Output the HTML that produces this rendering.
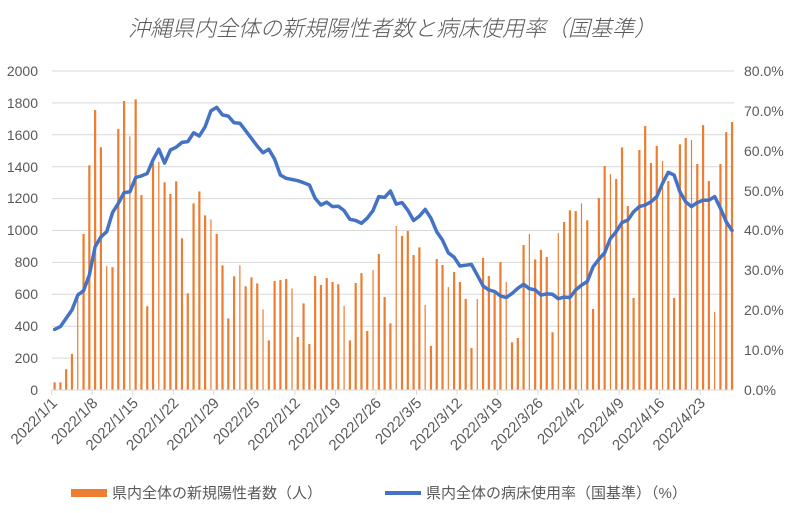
<!DOCTYPE html>
<html><head><meta charset="utf-8">
<style>
body{margin:0;background:#fff;}
svg{display:block;font-family:"Liberation Sans","Noto Sans CJK JP",sans-serif;}
</style></head>
<body>
<svg id="c" width="803" height="513" viewBox="0 0 803 513" xmlns="http://www.w3.org/2000/svg">
<rect width="803" height="513" fill="#fff"/>
<text x="392" y="36" text-anchor="middle" font-size="22" font-style="italic" fill="#595959" font-family="'Noto Sans CJK JP',sans-serif" font-weight="300">沖縄県内全体の新規陽性者数と病床使用率（国基準）</text>
<g id="grid" stroke="#d9d9d9" stroke-width="1"></g>
<g id="bars" fill="#ed7d31"></g>
<g id="ticks" stroke="#d9d9d9" stroke-width="1"></g>
<path id="line" fill="none" stroke="#4472c4" stroke-width="3.5" stroke-linejoin="round" stroke-linecap="round"/>
<g font-size="14" fill="#595959" text-anchor="end">
<text x="38" y="395">0</text><text x="38" y="363">200</text><text x="38" y="331">400</text><text x="38" y="299">600</text><text x="38" y="267">800</text><text x="38" y="235">1000</text><text x="38" y="203">1200</text><text x="38" y="172">1400</text><text x="38" y="140">1600</text><text x="38" y="108">1800</text><text x="38" y="76">2000</text>
</g>
<g font-size="14" fill="#595959" text-anchor="start">
<text x="744" y="395">0.0%</text><text x="744" y="355">10.0%</text><text x="744" y="315">20.0%</text><text x="744" y="275">30.0%</text><text x="744" y="235">40.0%</text><text x="744" y="196">50.0%</text><text x="744" y="156">60.0%</text><text x="744" y="116">70.0%</text><text x="744" y="76">80.0%</text>
</g>
<g font-size="15" fill="#595959" text-anchor="end">
<text transform="translate(58,404) rotate(-45)">2022/1/1</text>
<text transform="translate(98.5,404) rotate(-45)">2022/1/8</text>
<text transform="translate(139,404) rotate(-45)">2022/1/15</text>
<text transform="translate(179.5,404) rotate(-45)">2022/1/22</text>
<text transform="translate(220,404) rotate(-45)">2022/1/29</text>
<text transform="translate(260.5,404) rotate(-45)">2022/2/5</text>
<text transform="translate(301,404) rotate(-45)">2022/2/12</text>
<text transform="translate(341.5,404) rotate(-45)">2022/2/19</text>
<text transform="translate(382,404) rotate(-45)">2022/2/26</text>
<text transform="translate(422.5,404) rotate(-45)">2022/3/5</text>
<text transform="translate(463,404) rotate(-45)">2022/3/12</text>
<text transform="translate(503.5,404) rotate(-45)">2022/3/19</text>
<text transform="translate(544,404) rotate(-45)">2022/3/26</text>
<text transform="translate(584.5,404) rotate(-45)">2022/4/2</text>
<text transform="translate(625,404) rotate(-45)">2022/4/9</text>
<text transform="translate(665.5,404) rotate(-45)">2022/4/16</text>
<text transform="translate(706,404) rotate(-45)">2022/4/23</text>
</g>
<rect x="71" y="489" width="36" height="8" fill="#ed7d31"/>
<text x="112" y="498" font-size="15" fill="#595959">県内全体の新規陽性者数（人）</text>
<line x1="385" y1="493" x2="421" y2="493" stroke="#4472c4" stroke-width="4"/>
<text x="426" y="498" font-size="15" fill="#595959">県内全体の病床使用率（国基準）（%）</text>
</svg>
<script>
var ns="http://www.w3.org/2000/svg";
var v=[48,48,130,226,612,978,1409,1755,1522,777,770,1636,1812,1590,1822,1222,525,1421,1430,1302,1229,1308,951,606,1170,1245,1095,1070,978,781,449,713,781,650,706,668,505,311,683,689,696,637,332,543,288,715,658,702,677,663,527,311,671,733,370,752,853,583,418,1028,965,997,846,894,533,276,821,784,646,740,677,571,263,571,828,715,606,802,677,299,326,909,978,819,878,834,362,984,1053,1127,1122,1170,1064,508,1204,1404,1354,1323,1521,1153,577,1505,1655,1423,1530,1436,1310,577,1540,1580,1567,1417,1661,1310,489,1417,1617,1680];
var p=[15.2,15.9,18.0,20.1,23.8,24.9,28.8,35.9,38.4,39.7,44.5,46.8,49.5,49.7,53.3,53.7,54.3,57.7,60.4,56.9,60.2,60.9,62.1,62.3,64.5,63.7,66.0,70.0,70.9,69.0,68.7,67.0,66.9,65.0,63.1,61.2,59.5,60.4,57.9,53.9,53.1,52.8,52.5,52.0,51.4,48.1,46.4,47.1,46.0,46.1,45.0,42.8,42.5,41.8,43.1,45.0,48.5,48.3,49.9,46.6,47.0,45.1,42.5,43.6,45.3,43.1,39.7,37.6,34.4,33.3,31.1,31.3,31.5,28.8,26.1,25.1,24.7,23.6,23.2,24.2,25.5,26.5,25.4,25.1,23.8,24.1,24.0,22.9,23.3,23.2,25.1,26.3,27.2,30.9,32.8,34.4,38.0,39.7,42.0,42.6,44.7,46.0,46.4,47.2,48.5,51.8,54.6,53.9,49.7,47.2,46.0,47.0,47.6,47.6,48.5,45.6,42.2,40.0];
var thin=[4,9,13,18,27,32,36,41,50,55,59,64,68,73,78,82,87,91,96,105,110,114];
var X0=51.7,W=5.79,Y0=390,H=319;
var g=document.getElementById('grid');
for(var i=1;i<=10;i++){var y=Y0-H*i/10;var l=document.createElementNS(ns,'line');l.setAttribute('x1',X0);l.setAttribute('x2',734);l.setAttribute('y1',y);l.setAttribute('y2',y);g.appendChild(l);}
var b=document.getElementById('bars');
v.forEach(function(val,i){var w=thin.indexOf(i)>=0?1.2:2.2;var h=val/2000*H;var r=document.createElementNS(ns,'rect');var cx=X0+W*(i+0.5);r.setAttribute('x',cx-w/2);r.setAttribute('y',Y0-h);r.setAttribute('width',w);r.setAttribute('height',h);b.appendChild(r);});
var t=document.getElementById('ticks');
var bl=document.createElementNS(ns,'line');bl.setAttribute('x1',X0);bl.setAttribute('x2',734);bl.setAttribute('y1',Y0);bl.setAttribute('y2',Y0);t.appendChild(bl);
for(var k=0;k<=17;k++){var x=X0+W*7*k;if(x>735)break;var l=document.createElementNS(ns,'line');l.setAttribute('x1',x);l.setAttribute('x2',x);l.setAttribute('y1',Y0);l.setAttribute('y2',Y0+5);t.appendChild(l);}
var d='';p.forEach(function(val,i){d+=(i?'L':'M')+(X0+W*(i+0.5)).toFixed(1)+','+(Y0-val/80*H).toFixed(1);});
document.getElementById('line').setAttribute('d',d);
</script>
</body></html>
